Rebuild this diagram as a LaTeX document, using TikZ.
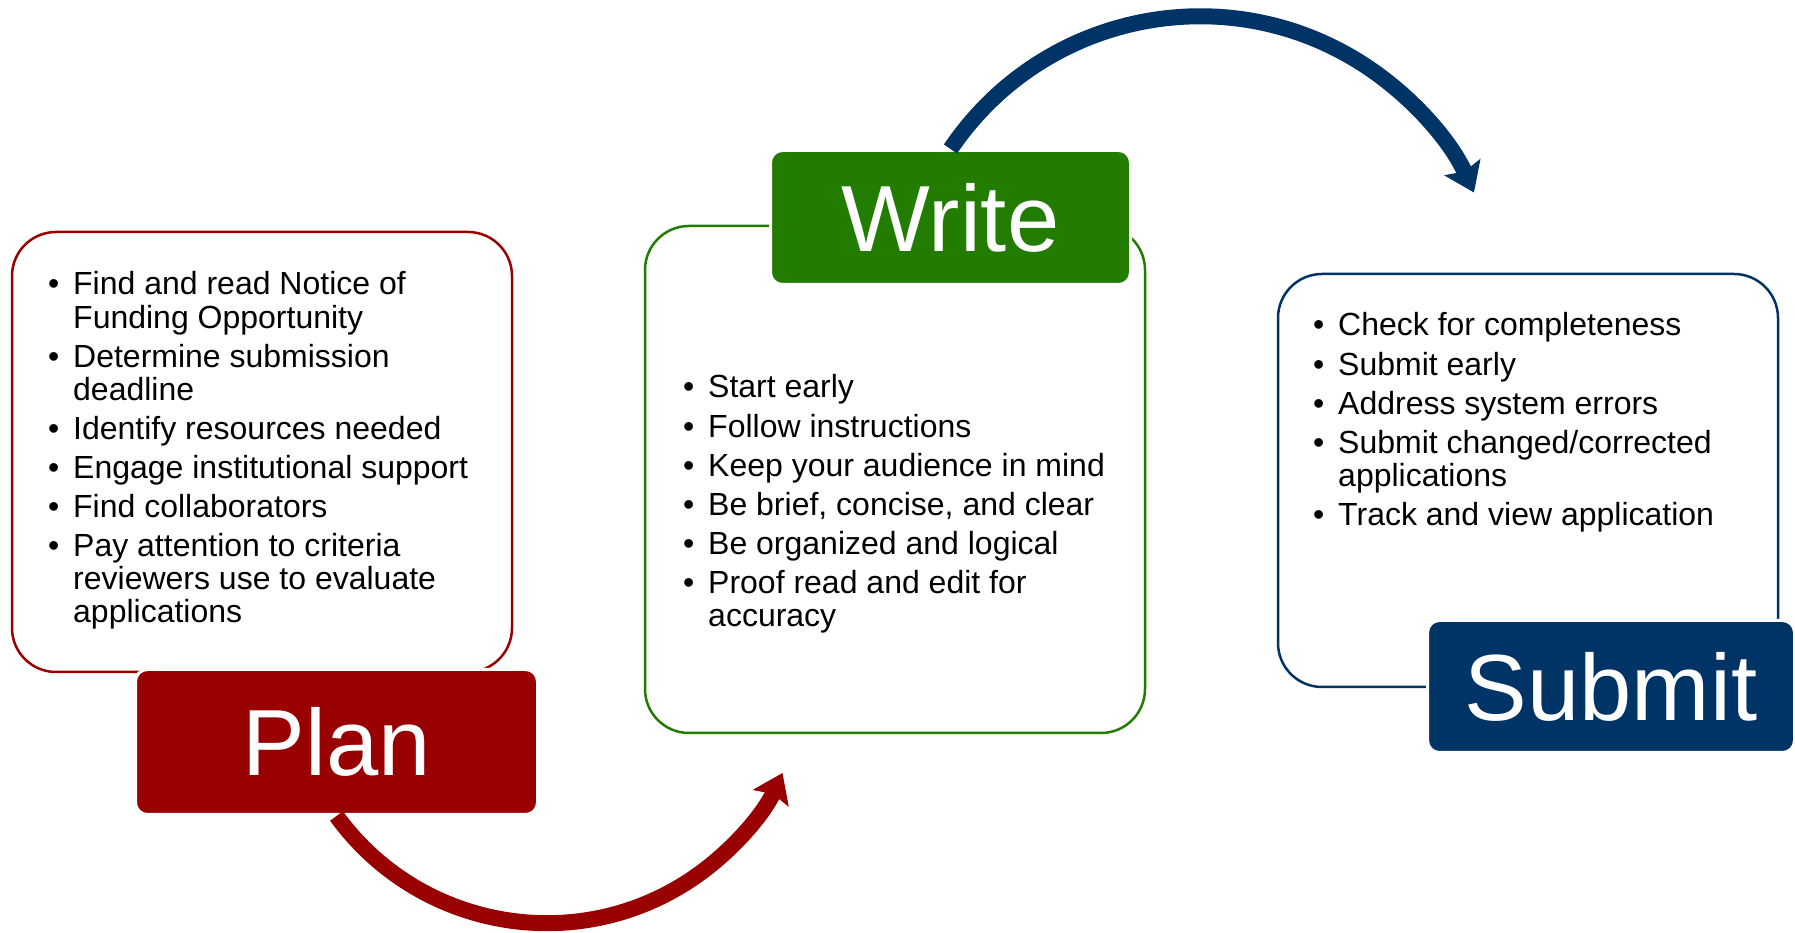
\documentclass[tikz,border=0pt]{standalone}
\usepackage{fontspec}
\setmainfont{Liberation Sans}
\usetikzlibrary{arrows.meta}
\definecolor{planred}{RGB}{153,0,0}
\definecolor{writegreen}{RGB}{33,124,0}
\definecolor{submitblue}{RGB}{0,52,102}
\newcommand\listsetup{\fontsize{32}{33}\selectfont}
\begin{document}
\begin{tikzpicture}[x=1pt,y=1pt,
  plainbox/.style={draw=#1, line width=2.5pt, rounded corners=44pt, minimum width=500pt, inner sep=0pt},
  tagbox/.style={fill=#1, draw=white, line width=3pt, rounded corners=12pt, text=white,
    font=\fontsize{94}{100}\selectfont, inner sep=0pt},
  itemlist/.style={anchor=base west, inner sep=0pt, font=\listsetup},
  flowarrow/.style={line width=16pt, -{Stealth[length=28pt,width=40pt,inset=5pt,line width=0pt]}}]
\useasboundingbox (0,0) rectangle (1795,933);

% outline boxes
\node[plainbox=planred, minimum height=440pt] (planbox) at (262,481) {};
\node[plainbox=writegreen, minimum height=507pt] (writebox) at (895,453.5) {};
\node[plainbox=submitblue, minimum height=413pt] (submitbox) at (1528,452.5) {};

% lists
\node[itemlist] (planlist) at (48,638) {\listsetup\begin{tabular}[t]{@{}p{25pt}@{}l@{}}
  \textbullet & Find and read Notice of\\
              & Funding Opportunity\\[6pt]
  \textbullet & Determine submission\\
              & deadline\\[6pt]
  \textbullet & Identify resources needed\\[6pt]
  \textbullet & Engage institutional support\\[6pt]
  \textbullet & Find collaborators\\[6pt]
  \textbullet & Pay attention to criteria\\
              & reviewers use to evaluate\\
              & applications
\end{tabular}};

\node[itemlist] (writelist) at (683,535) {\listsetup\begin{tabular}[t]{@{}p{25pt}@{}l@{}}
  \textbullet & Start early\\[6pt]
  \textbullet & Follow instructions\\[6pt]
  \textbullet & Keep your audience in mind\\[6pt]
  \textbullet & Be brief, concise, and clear\\[6pt]
  \textbullet & Be organized and logical\\[6pt]
  \textbullet & Proof read and edit for\\
              & accuracy
\end{tabular}};

\node[itemlist] (submitlist) at (1313,597) {\listsetup\begin{tabular}[t]{@{}p{25pt}@{}l@{}}
  \textbullet & Check for completeness\\[6pt]
  \textbullet & Submit early\\[6pt]
  \textbullet & Address system errors\\[6pt]
  \textbullet & Submit changed/corrected\\
              & applications\\[6pt]
  \textbullet & Track and view application
\end{tabular}};

% labels
\node[tagbox=planred, minimum width=402pt, minimum height=145pt] (planlabel) at (336.5,191) {Plan};
\node[tagbox=writegreen, minimum width=360pt, minimum height=134pt] (writelabel) at (950.5,715.5) {Write};
\node[tagbox=submitblue, minimum width=367pt, minimum height=132pt] (submitlabel) at (1611,246.5) {Submit};

% arrows
\draw[flowarrow, planred] (planlabel.south) arc[start angle=216, end angle=335, radius=260];
\draw[flowarrow, submitblue] (writelabel.north) arc[start angle=146, end angle=24.5, radius=301];
\end{tikzpicture}
\end{document}
